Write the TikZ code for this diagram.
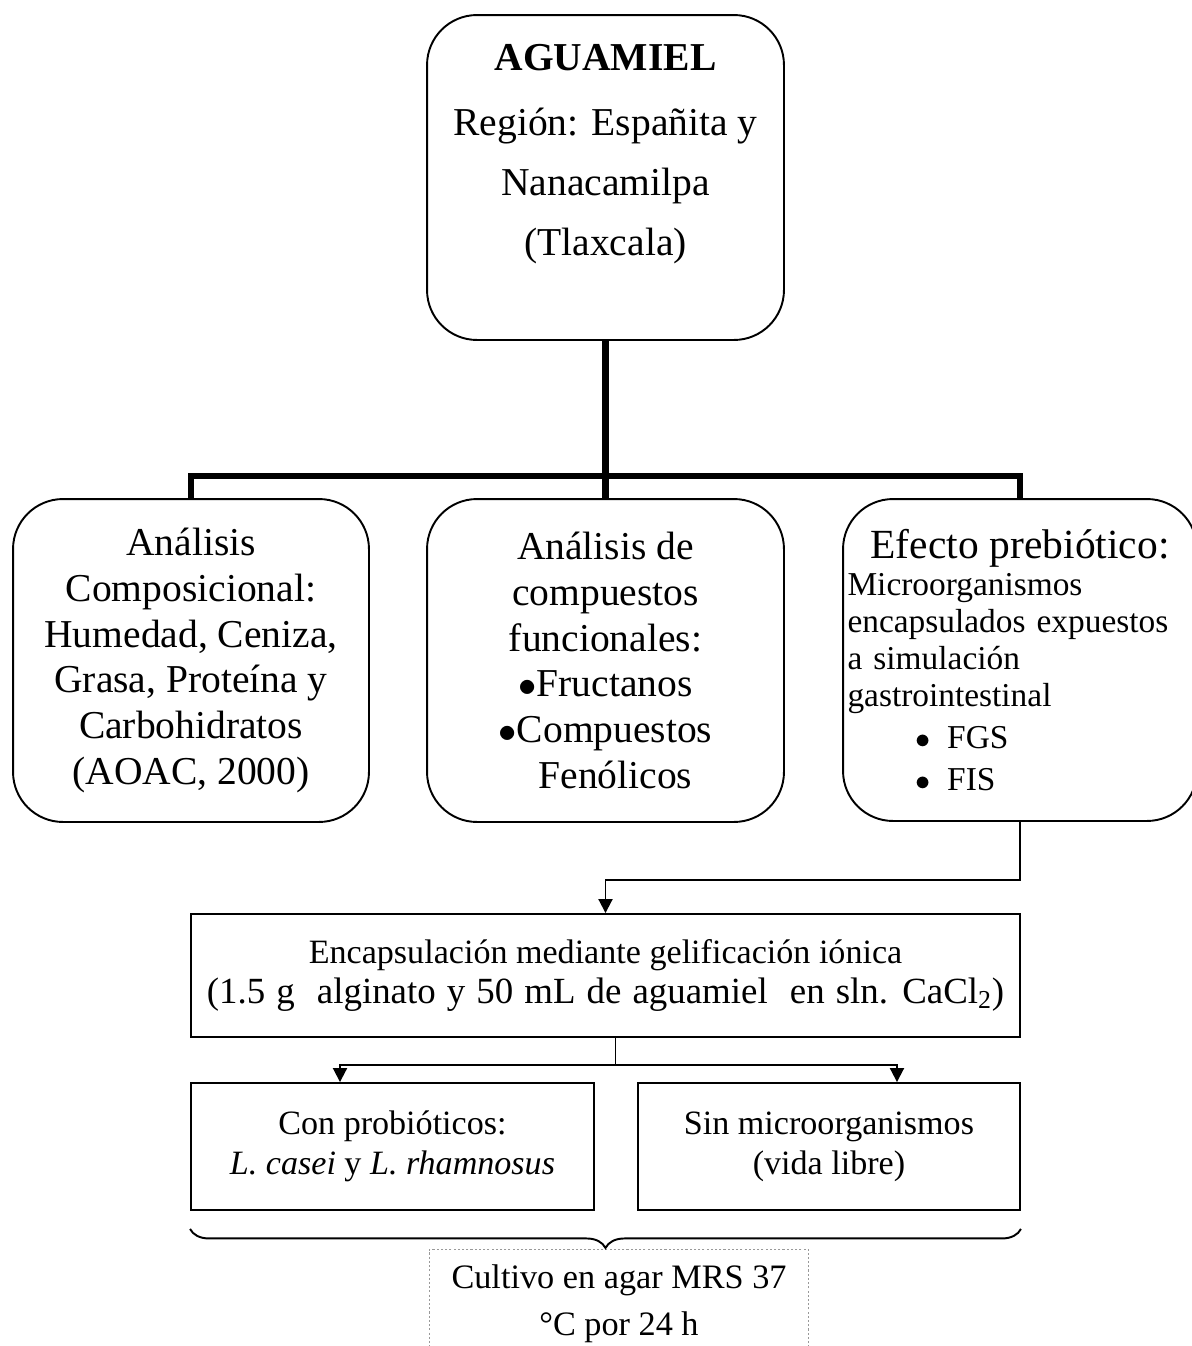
\documentclass[tikz,border=0pt]{standalone}
\usepackage{fontspec}
\setmainfont{Liberation Serif}
\usetikzlibrary{arrows.meta,positioning,decorations.pathreplacing}

\newcommand{\toptxt}{\fontsize{22.5}{34}\selectfont}
\newcommand{\bigtxt}{\fontsize{22.5}{26}\selectfont}
\newcommand{\smalltxt}{\fontsize{19}{21}\selectfont}
\newcommand{\lowtxt}{\fontsize{19.4}{22.7}\selectfont}
\newcommand{\cultxt}{\fontsize{19.5}{27}\selectfont}

\tikzset{
  roundbox/.style={draw, line width=1.1pt, rounded corners=1cm, align=center, inner sep=0pt},
  plainbox/.style={draw, line width=1.1pt, align=center, inner sep=0pt, font=\lowtxt},
  treeline/.style={line width=3.8pt},
  conn/.style={line width=1.1pt},
  arr/.style={conn, -{Triangle[length=8pt,width=8pt]}},
}

\begin{document}
\begin{tikzpicture}[x=0.02cm, y=-0.02cm]
\useasboundingbox (0,0) rectangle (1191,1346);

% Top box
\node[roundbox, minimum width=7.14cm, minimum height=6.5cm, font=\toptxt] (agua) at (605.5,177.5)
  {\textbf{AGUAMIEL}\\[3pt]
   Región: Españita y\\
   Nanacamilpa\\
   (Tlaxcala)\rule[-1.1cm]{0pt}{0pt}};

% Second level
\node[roundbox, minimum width=7.12cm, minimum height=6.46cm, font=\bigtxt] (comp) at (191,660.5)
  {Análisis\\
   Composicional:\\
   Humedad, Ceniza,\\
   Grasa, Proteína y\\
   Carbohidratos\\
   (AOAC, 2000)};
\node[roundbox, minimum width=7.14cm, minimum height=6.46cm, font=\bigtxt] (anal) at (605.5,660.5)
  {Análisis de\\
   compuestos\\
   funcionales:\\
   $\bullet$Fructanos\\
   $\bullet$Compuestos\\
   \hspace*{0.4cm}Fenólicos};
\node[roundbox, minimum width=7.08cm, minimum height=6.44cm, text width=6.9cm, align=left, font=\smalltxt] (efec) at (1020,660)
  {\makebox[6.9cm][c]{\fontsize{23.6}{21}\selectfont Efecto prebiótico:}\\
   Microorganismos\\
   encapsulados expuestos\\
   a simulación\\
   gastrointestinal\\[3pt]
   \hspace*{1.35cm}$\bullet$\hspace{0.34cm}FGS\\[3pt]
   \hspace*{1.35cm}$\bullet$\hspace{0.34cm}FIS};

% Encapsulation
\node[plainbox, minimum width=16.58cm, minimum height=2.46cm] (encap) at (605.5,975.5)
  {Encapsulación mediante gelificación iónica\\
   {\fontsize{21}{22.7}\selectfont\spaceskip=0.3em (1.5 g\ \ alginato y 50 mL de aguamiel\ \ en sln. CaCl\textsubscript{2})}};

\node[plainbox, minimum width=8.06cm, minimum height=2.54cm] (conp) at (392.5,1146.5)
  {Con probióticos:\\
   \textit{L. casei} y \textit{L. rhamnosus}};
\node[plainbox, minimum width=7.64cm, minimum height=2.54cm] (sinm) at (829,1146.5)
  {Sin microorganismos\\
   (vida libre)};

% Culture box
\node[draw=gray!80, dash pattern=on 1.2pt off 1.2pt, line width=0.6pt, anchor=north,
      minimum width=7.6cm, inner ysep=0.3cm, align=center, font=\cultxt] (cult) at (619,1249)
  {Cultivo en agar MRS 37\\
   °C por 24 h\rule[-0.6cm]{0pt}{0pt}};

% Tree connectors
\coordinate (bar) at (605.5,476);
\draw[treeline] (agua.south) -- (anal.north);
\draw[treeline] (comp.north) |- (bar) -| (efec.north);

% Arrows
\draw[arr] (efec.south) -- ++(0,58) -| (encap.north);
\draw[conn] ([xshift=0.2cm]encap.south) -- ++(0,27) coordinate (split);
\draw[arr] (split) -| ([xshift=-1.05cm]conp.north);
\draw[arr] (split) -| ([xshift=1.36cm]sinm.north);

% Brace
\draw[conn, decorate, decoration={brace, mirror, amplitude=0.38cm}]
  ([yshift=-0.36cm]conp.south west) -- ([yshift=-0.36cm]sinm.south east);

\end{tikzpicture}
\end{document}
